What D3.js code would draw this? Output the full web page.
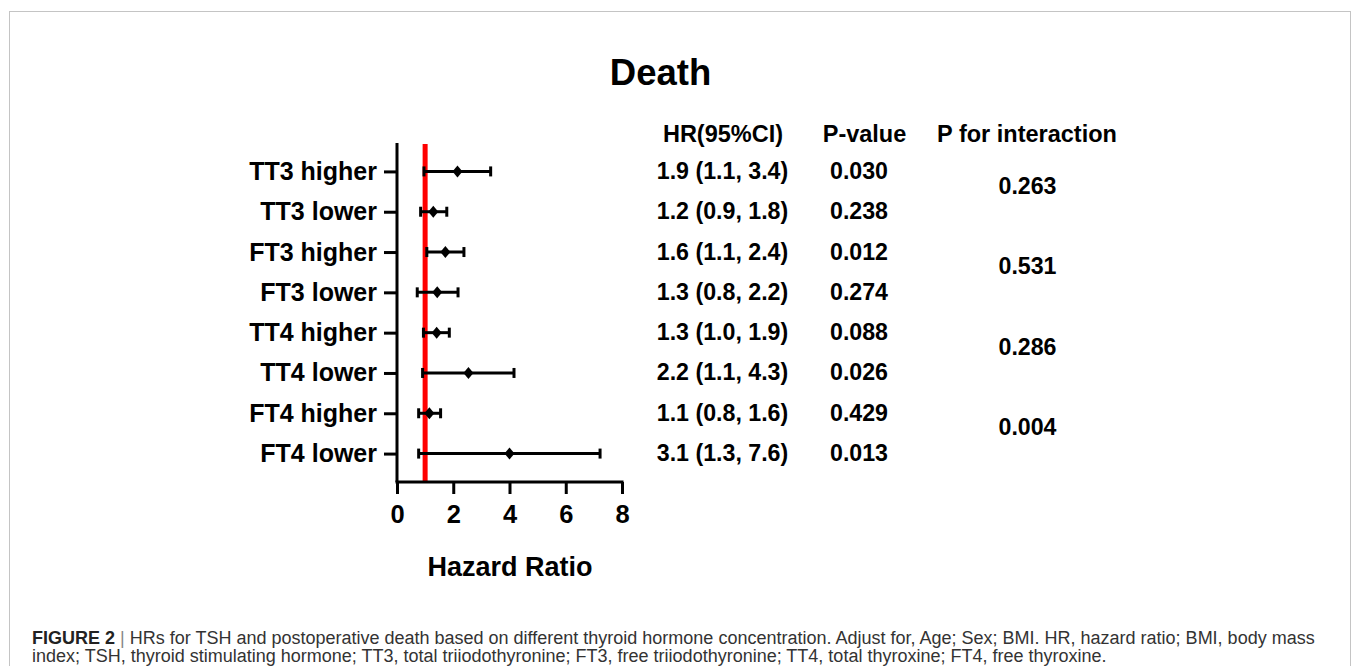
<!DOCTYPE html>
<html>
<head>
<meta charset="utf-8">
<script src="https://cdn.jsdelivr.net/npm/d3@7"></script>
<style>
  html, body { margin: 0; padding: 0; background: #fff; }
  svg { display: block; font-family: Arial, "Liberation Sans", sans-serif; }
</style>
</head>
<body>
<svg id="chart" width="1355" height="666"></svg>
<script>
// ---- data ----
const categories = ["TT3 higher", "TT3 lower", "FT3 higher", "FT3 lower", "TT4 higher", "TT4 lower", "FT4 higher", "FT4 lower"];
const hrPoint = [2.15, 1.29, 1.72, 1.43, 1.41, 2.54, 1.15, 4.0];
const ciLower = [0.96, 0.84, 1.06, 0.72, 0.94, 0.91, 0.77, 0.77];
const ciUpper = [3.33, 1.77, 2.38, 2.17, 1.86, 4.16, 1.55, 7.22];
const hrText = ["1.9 (1.1, 3.4)", "1.2 (0.9, 1.8)", "1.6 (1.1, 2.4)", "1.3 (0.8, 2.2)", "1.3 (1.0, 1.9)", "2.2 (1.1, 4.3)", "1.1 (0.8, 1.6)", "3.1 (1.3, 7.6)"];
const pValues = ["0.030", "0.238", "0.012", "0.274", "0.088", "0.026", "0.429", "0.013"];
const pInteraction = ["0.263", "0.531", "0.286", "0.004"];
const xTicks = [0, 2, 4, 6, 8];
const refLine = 1;
const headers = ["HR(95%CI)", "P-value", "P for interaction"];
const title = "Death";
const xLabel = "Hazard Ratio";
const captionBold = "FIGURE 2";
const captionLine1 = "HRs for TSH and postoperative death based on different thyroid hormone concentration. Adjust for, Age; Sex; BMI. HR, hazard ratio; BMI, body mass";
const captionLine2 = "index; TSH, thyroid stimulating hormone; TT3, total triiodothyronine; FT3, free triiodothyronine; TT4, total thyroxine; FT4, free thyroxine.";

const svg = d3.select("#chart");

// frame
svg.append("rect").attr("x", 9.5).attr("y", 11.5).attr("width", 1341).attr("height", 700)
  .attr("fill", "none").attr("stroke", "#c4c4c4").attr("stroke-width", 1);

// scales
const x = d3.scaleLinear().domain([0, 8]).range([397, 622]);
const y = d3.scalePoint().domain(categories).range([143, 482]).padding(0.705);

// title
svg.append("text").attr("x", 660.5).attr("y", 85).attr("text-anchor", "middle")
  .attr("font-size", 36.5).attr("font-weight", "bold").attr("fill", "#000").text(title);

// red reference line
svg.append("line").attr("x1", x(refLine)).attr("x2", x(refLine)).attr("y1", 144).attr("y2", 481)
  .attr("stroke", "#ff0000").attr("stroke-width", 5);

// y axis
const yAxis = svg.append("g").attr("transform", "translate(397,0)")
  .call(d3.axisLeft(y).tickSize(13).tickSizeOuter(0).tickPadding(7));
yAxis.selectAll("path, line").attr("stroke", "#000").attr("stroke-width", 3);
yAxis.select(".domain").attr("d", "M0,143V482");
yAxis.selectAll("text").attr("font-size", 25).attr("font-weight", "bold").attr("fill", "#000")
  .attr("font-family", "Arial, 'Liberation Sans', sans-serif");

// x axis
const xAxis = svg.append("g").attr("transform", "translate(0,482)")
  .call(d3.axisBottom(x).tickValues(xTicks).tickSize(12).tickSizeOuter(0).tickPadding(11).tickFormat(d3.format("d")));
xAxis.selectAll("path, line").attr("stroke", "#000").attr("stroke-width", 3);
xAxis.select(".domain").attr("d", "M395.5,0H623.5");
xAxis.selectAll("text").attr("font-size", 25.5).attr("font-weight", "bold").attr("fill", "#000")
  .attr("font-family", "Arial, 'Liberation Sans', sans-serif");

// x label
svg.append("text").attr("x", 510).attr("y", 576).attr("text-anchor", "middle")
  .attr("font-size", 27).attr("font-weight", "bold").attr("fill", "#000").text(xLabel);

// error bars
const rows = categories.map((c, i) => ({c, hr: hrPoint[i], lo: ciLower[i], hi: ciUpper[i]}));
const g = svg.append("g");
g.selectAll("line.ci").data(rows).join("line").attr("class", "ci")
  .attr("x1", d => x(d.lo)).attr("x2", d => x(d.hi))
  .attr("y1", d => y(d.c)).attr("y2", d => y(d.c))
  .attr("stroke", "#000").attr("stroke-width", 3);
g.selectAll("line.capL").data(rows).join("line").attr("class", "capL")
  .attr("x1", d => x(d.lo)).attr("x2", d => x(d.lo))
  .attr("y1", d => y(d.c) - 5).attr("y2", d => y(d.c) + 5)
  .attr("stroke", "#000").attr("stroke-width", 3);
g.selectAll("line.capH").data(rows).join("line").attr("class", "capH")
  .attr("x1", d => x(d.hi)).attr("x2", d => x(d.hi))
  .attr("y1", d => y(d.c) - 5).attr("y2", d => y(d.c) + 5)
  .attr("stroke", "#000").attr("stroke-width", 3);
g.selectAll("path.pt").data(rows).join("path").attr("class", "pt")
  .attr("d", d => { const cx = x(d.hr), cy = y(d.c); return `M${cx},${cy-6}L${cx+5},${cy}L${cx},${cy+6}L${cx-5},${cy}Z`; })
  .attr("fill", "#000");

// table headers
const colX = [723, 864.5, 1027];
svg.selectAll("text.hdr").data(headers).join("text").attr("class", "hdr")
  .attr("x", (d, i) => colX[i]).attr("y", 142).attr("text-anchor", "middle")
  .attr("font-size", 23.5).attr("font-weight", "bold").attr("fill", "#000").text(d => d);

// table values
svg.selectAll("text.hr").data(hrText).join("text").attr("class", "hr")
  .attr("x", 722.5).attr("y", (d, i) => y(categories[i]) + 7.5).attr("text-anchor", "middle")
  .attr("font-size", 23.2).attr("font-weight", "bold").attr("fill", "#000").text(d => d);
svg.selectAll("text.pv").data(pValues).join("text").attr("class", "pv")
  .attr("x", 859).attr("y", (d, i) => y(categories[i]) + 7.5).attr("text-anchor", "middle")
  .attr("font-size", 23.2).attr("font-weight", "bold").attr("fill", "#000").text(d => d);
svg.selectAll("text.pi").data(pInteraction).join("text").attr("class", "pi")
  .attr("x", 1027.5).attr("y", (d, i) => (y(categories[2*i]) + y(categories[2*i+1])) / 2 + 2)
  .attr("text-anchor", "middle")
  .attr("font-size", 23.2).attr("font-weight", "bold").attr("fill", "#000").text(d => d);

// caption
const cap1 = svg.append("text").attr("x", 32).attr("y", 643.5).attr("font-size", 15.5).attr("fill", "#333");
cap1.append("tspan").attr("font-weight", "bold").attr("fill", "#222").text(captionBold);
cap1.append("tspan").attr("fill", "#888").text(" | ");
cap1.append("tspan").text(captionLine1);
const cap2 = svg.append("text").attr("x", 32).attr("y", 662).attr("font-size", 15.5).attr("fill", "#333").text(captionLine2);
// fit caption width to reference line width
const w1 = cap1.node().getComputedTextLength();
const fs = 15.5 * 1283 / w1;
cap1.attr("font-size", fs);
cap2.attr("font-size", fs);
</script>
</body>
</html>
